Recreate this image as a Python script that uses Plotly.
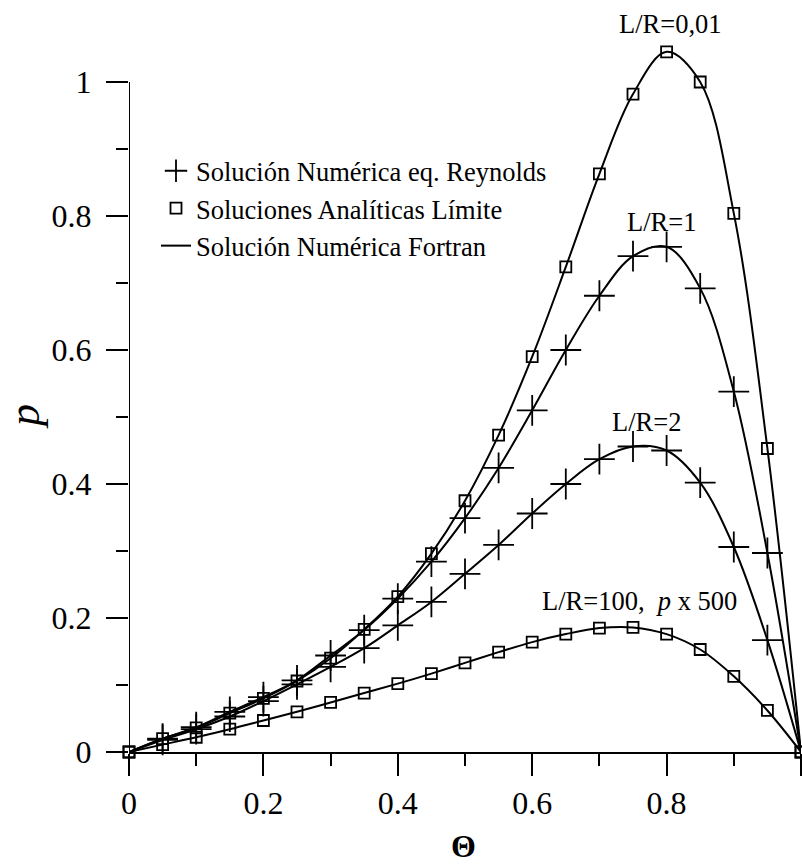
import plotly.graph_objects as go

# ---------------- data ----------------
theta = [0.00, 0.05, 0.10, 0.15, 0.20, 0.25, 0.30, 0.35, 0.40, 0.45, 0.50,
         0.55, 0.60, 0.65, 0.70, 0.75, 0.80, 0.85, 0.90, 0.95, 1.00]

p_lr001 = [0.000, 0.020, 0.036, 0.058, 0.080, 0.106, 0.140, 0.183, 0.232, 0.296, 0.375,
           0.473, 0.590, 0.724, 0.863, 0.982, 1.045, 1.000, 0.804, 0.453, 0.000]

p_lr1 = [0.000, 0.020, 0.037, 0.060, 0.082, 0.107, 0.144, 0.182, 0.229, 0.284, 0.349,
         0.424, 0.510, 0.600, 0.681, 0.740, 0.754, 0.692, 0.538, 0.297, 0.000]

p_lr2 = [0.000, 0.018, 0.034, 0.053, 0.076, 0.101, 0.127, 0.155, 0.189, 0.224, 0.266,
         0.309, 0.356, 0.400, 0.437, 0.456, 0.450, 0.402, 0.306, 0.167, 0.000]

p_lr100x500 = [0.000, 0.011, 0.022, 0.034, 0.047, 0.060, 0.074, 0.088, 0.102, 0.117, 0.133,
               0.149, 0.164, 0.176, 0.185, 0.186, 0.176, 0.153, 0.113, 0.062, 0.000]

major_ticks = [0, 0.2, 0.4, 0.6, 0.8, 1]
major_labels = ["0", "0.2", "0.4", "0.6", "0.8", "1"]
minor_ticks = [0.1, 0.3, 0.5, 0.7, 0.9]

curve_labels = ["L/R=0,01", "L/R=1", "L/R=2", "L/R=100,\u00a0 <i>p</i> x 500"]
curve_label_pos = [(0.806, 1.087), (0.7925, 0.791), (0.770, 0.492), (0.759, 0.226)]

legend_names = ["Solución Numérica eq. Reynolds",
                "Soluciones Analíticas Límite",
                "Solución Numérica Fortran"]

# ---------------- figure ----------------
FONT = "Liberation Serif"
BLACK = "#000000"

fig = go.Figure()

plus_marker = dict(symbol="cross-thin-open", size=22, color=BLACK,
                   line=dict(color=BLACK, width=1.8))
square_marker = dict(symbol="square-open", size=11, color=BLACK,
                     line=dict(color=BLACK, width=1.8))

inner = slice(1, -1)

fig.add_trace(go.Scatter(x=theta[inner], y=p_lr1[inner], mode="markers",
                         marker=plus_marker, name=legend_names[0],
                         legendgroup="plus", showlegend=True, cliponaxis=False))
fig.add_trace(go.Scatter(x=theta, y=p_lr001, mode="markers",
                         marker=square_marker, name=legend_names[1],
                         legendgroup="sq", showlegend=True, cliponaxis=False))
for i, series in enumerate([p_lr001, p_lr1, p_lr2, p_lr100x500]):
    fig.add_trace(go.Scatter(x=theta, y=series, mode="lines",
                             line=dict(color=BLACK, width=2, shape="spline", smoothing=1.0),
                             name=legend_names[2], legendgroup="line",
                             showlegend=(i == 0), cliponaxis=False))
fig.add_trace(go.Scatter(x=theta[inner], y=p_lr2[inner], mode="markers",
                         marker=plus_marker, name=legend_names[0],
                         legendgroup="plus", showlegend=False, cliponaxis=False))
fig.add_trace(go.Scatter(x=theta, y=p_lr100x500, mode="markers",
                         marker=square_marker, name=legend_names[1],
                         legendgroup="sq", showlegend=False, cliponaxis=False))

for txt, (lx, ly) in zip(curve_labels, curve_label_pos):
    fig.add_annotation(x=lx, y=ly, xref="x", yref="y", text=txt, showarrow=False,
                       font=dict(family=FONT, size=26.5, color=BLACK),
                       xanchor="center", yanchor="middle")

# axis titles
fig.add_annotation(x=(24 - 129) / 672, y=(752 - 417) / 752, xref="paper", yref="paper",
                   text="<i>p</i>", showarrow=False, textangle=-90,
                   font=dict(family=FONT, size=44, color=BLACK),
                   xanchor="center", yanchor="middle")
fig.add_annotation(x=(463 - 129) / 672, y=(752 - 846) / 752, xref="paper", yref="paper",
                   text="<b>Θ</b>", showarrow=False,
                   font=dict(family=FONT, size=32, color=BLACK),
                   xanchor="center", yanchor="middle")

fig.add_shape(type="line", xref="x", yref="y", x0=0, x1=0, y0=0, y1=1,
              line=dict(color=BLACK, width=2))

tickfont = dict(family=FONT, size=32, color=BLACK)
fig.update_xaxes(range=[0, 1], showgrid=False, zeroline=False, showline=True,
                 linecolor=BLACK, linewidth=2,
                 tickmode="array", tickvals=major_ticks, ticktext=major_labels,
                 ticks="outside", ticklen=22, tickwidth=2, tickcolor=BLACK,
                 tickfont=tickfont, ticklabelstandoff=0,
                 minor=dict(tickmode="array", tickvals=minor_ticks, ticks="outside",
                            ticklen=12, tickwidth=2, tickcolor=BLACK, showgrid=False))
fig.update_yaxes(range=[0, 752 / 670], showgrid=False, zeroline=False, showline=False,
                 tickmode="array", tickvals=major_ticks, ticktext=major_labels,
                 ticks="outside", ticklen=22, tickwidth=2, tickcolor=BLACK,
                 tickfont=tickfont, ticklabelstandoff=8,
                 minor=dict(tickmode="array", tickvals=minor_ticks, ticks="outside",
                            ticklen=12, tickwidth=2, tickcolor=BLACK, showgrid=False))

fig.update_layout(
    width=802, height=866,
    margin=dict(l=129, r=1, t=0, b=114, pad=0),
    paper_bgcolor="white", plot_bgcolor="white",
    font=dict(family=FONT, color=BLACK),
    legend=dict(x=(156 - 129) / 672, y=(752 - 147) / 752, xanchor="left", yanchor="top",
                bgcolor="rgba(0,0,0,0)", borderwidth=0,
                font=dict(family=FONT, size=26.5, color=BLACK),
                traceorder="normal", itemwidth=30),
)

fig.write_html("out.html")
